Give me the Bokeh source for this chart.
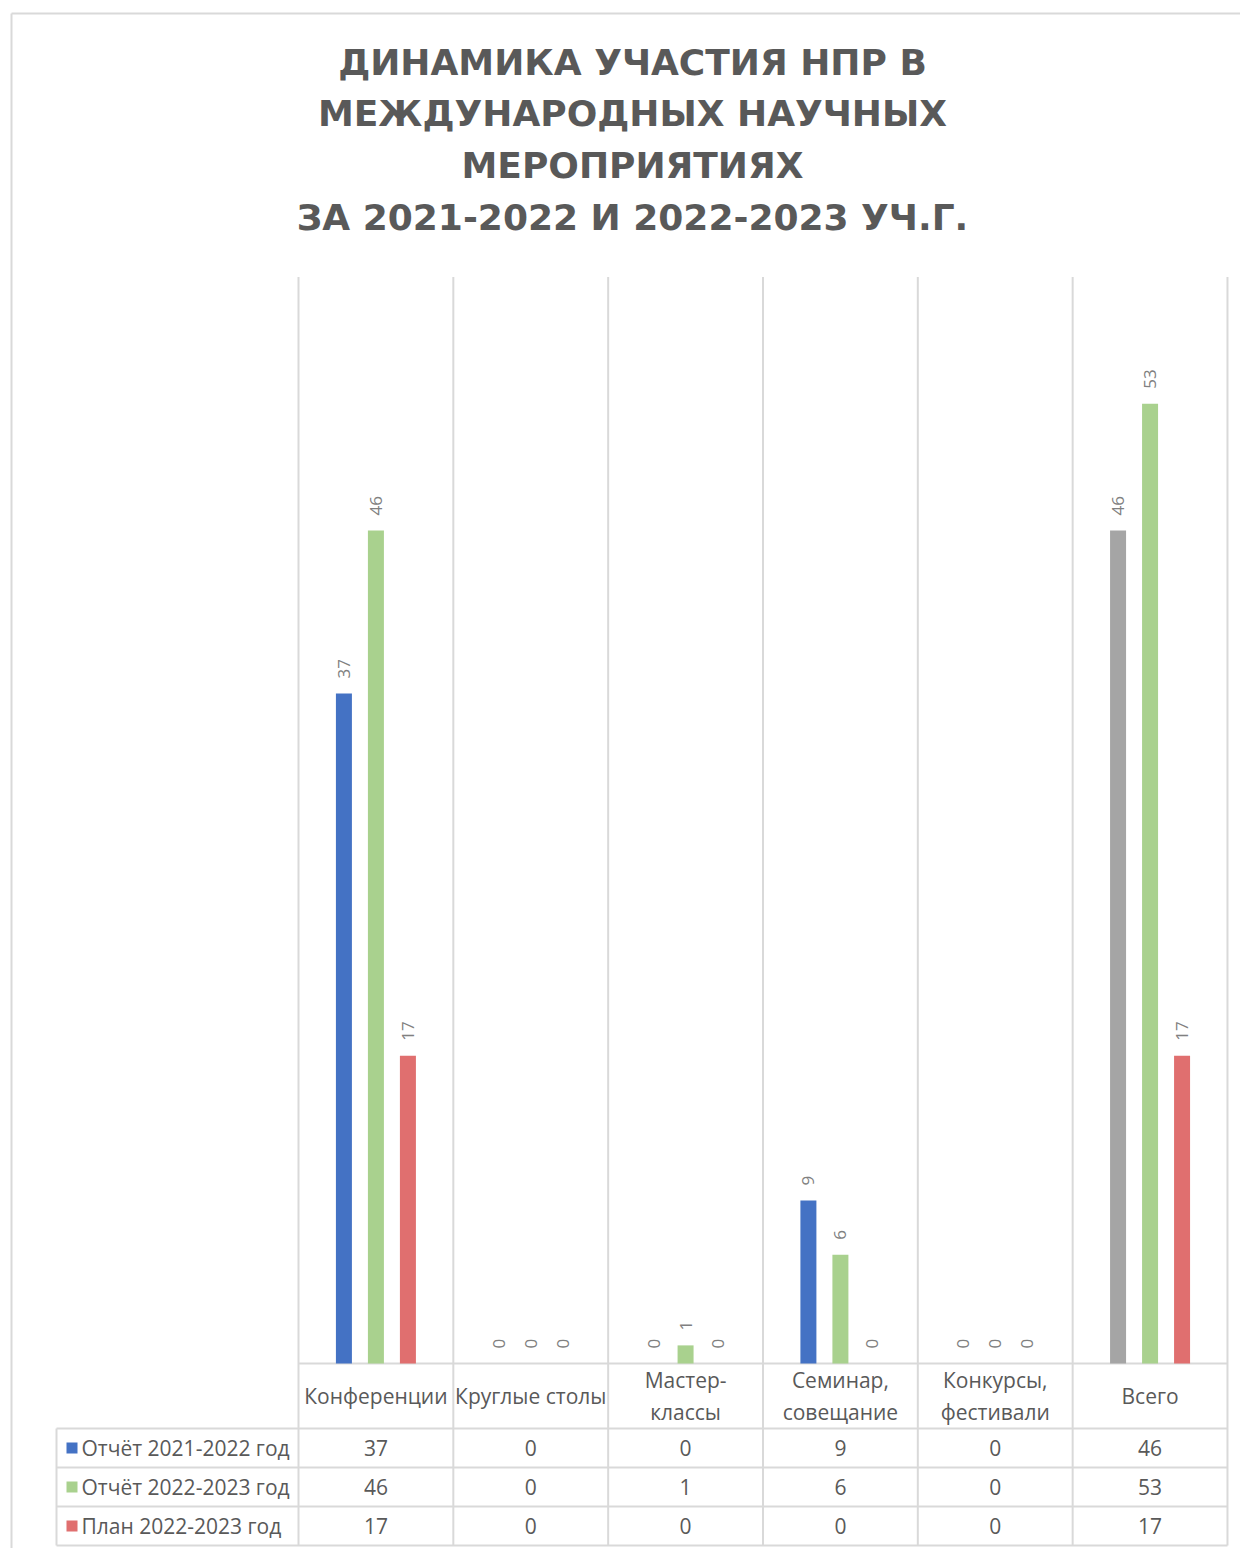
import math
from bokeh.plotting import figure
from bokeh.models import ColumnDataSource, Range1d
from bokeh.core.properties import value
from bokeh.embed import file_html
from bokeh.resources import INLINE

# ---------------- data ----------------
categories = ["Конференции", "Круглые столы", "Мастер-\nклассы",
              "Семинар,\nсовещание", "Конкурсы,\nфестивали", "Всего"]
report_2021_2022 = [37, 0, 0, 9, 0, 46]
report_2022_2023 = [46, 0, 1, 6, 0, 53]
plan_2022_2023 = [17, 0, 0, 0, 0, 17]
series_names = ["Отчёт 2021-2022 год", "Отчёт 2022-2023 год", "План 2022-2023 год"]
title_lines = ["ДИНАМИКА УЧАСТИЯ НПР В", "МЕЖДУНАРОДНЫХ НАУЧНЫХ",
               "МЕРОПРИЯТИЯХ", "ЗА 2021-2022 И 2022-2023 УЧ.Г."]
y_max = 60

# ---------------- styles / layout ----------------
BLUE, GREEN, RED, GREY_BAR = "#4472C4", "#A9D18E", "#E06F6F", "#A5A5A5"
TXT = "#595959"
LBL = "#808080"
GRID = "#D9D9D9"
FONT = "Open Sans"

W, H = 1240, 1548
CW = 154.83          # px per category
SY = 18.11           # px per unit
X0 = 298.0           # px of category 0 left edge
Y0 = 1363.0          # px (from top) of baseline

def dx(px):   # px -> data x
    return (px - X0) / CW

def dy(py):   # px from top -> data y
    return (Y0 - py) / SY

p = figure(width=W, height=H, output_backend="svg", toolbar_location=None,
           x_range=Range1d(dx(0), dx(W)), y_range=Range1d(dy(H), dy(0)),
           min_border=0, x_axis_type=None, y_axis_type=None)
p.grid.visible = False
p.outline_line_color = None
p.background_fill_color = "white"
p.border_fill_color = "white"

n = len(categories)
# outer chart border (left & top)
p.segment(x0=[dx(11), dx(11)], y0=[dy(13), dy(13)], x1=[dx(11), dx(W)], y1=[dy(H), dy(13)],
          line_color=GRID, line_width=2)

# ---------------- grid & table lines ----------------
header_h, row_h = 65, 39
leg_left = dx(56)
y_top_plot = y_max
y_header = dy(Y0 + header_h)
row_edges = [dy(Y0 + header_h + row_h * k) for k in range(4)]
y_bottom = row_edges[-1]

vx = list(range(n + 1))
p.segment(x0=vx, y0=[y_top_plot] * len(vx), x1=vx, y1=[y_bottom] * len(vx),
          line_color=GRID, line_width=2)
p.segment(x0=[leg_left], y0=[y_header], x1=[leg_left], y1=[y_bottom],
          line_color=GRID, line_width=2)
p.segment(x0=[0], y0=[0], x1=[n], y1=[0], line_color=GRID, line_width=2)
p.segment(x0=[leg_left] * 4, y0=row_edges, x1=[n] * 4, y1=row_edges,
          line_color=GRID, line_width=2)

# ---------------- bars ----------------
off = 32 / CW
bw = 16 / CW
series = [report_2021_2022, report_2022_2023, plan_2022_2023]
colors = [[BLUE] * (n - 1) + [GREY_BAR], [GREEN] * n, [RED] * n]
for k, (vals, cols) in enumerate(zip(series, colors)):
    xs = [i + 0.5 + (k - 1) * off for i in range(n)]
    src = ColumnDataSource(dict(x=xs, top=vals, color=cols,
                                lab=[str(v) for v in vals]))
    p.vbar(x="x", top="top", bottom=0, width=bw, fill_color="color",
           line_color=None, source=src)
    p.text(x="x", y="top", text="lab", source=src, angle=math.pi / 2,
           text_align="left", text_baseline="middle", y_offset=-15,
           text_font=value(FONT), text_font_size="17px", text_color=LBL)

# ---------------- category labels (table header) ----------------
cx = [i + 0.5 for i in range(n)]
p.text(x=cx, y=[(0 + y_header) / 2] * n, text=categories,
       text_align="center", text_baseline="middle", text_line_height=1.12,
       text_font=value(FONT), text_font_size="21px", text_color=TXT)

# ---------------- table rows ----------------
for k, vals in enumerate(series):
    yc = (row_edges[k] + row_edges[k + 1]) / 2
    p.text(x=cx, y=[yc] * n, text=[str(v) for v in vals],
           text_align="center", text_baseline="middle",
           text_font=value(FONT), text_font_size="21px", text_color=TXT)

leg_y = [(row_edges[k] + row_edges[k + 1]) / 2 for k in range(3)]
p.scatter(x=[dx(71.5)] * 3, y=leg_y, marker="square", size=11,
          fill_color=[BLUE, GREEN, RED], line_color=None)
p.text(x=[dx(81)] * 3, y=leg_y, text=series_names, text_align="left",
       text_baseline="middle", text_font=value(FONT), text_font_size="21px",
       text_color=TXT)

# ---------------- title ----------------
title_y = [dy(62), dy(113), dy(165), dy(217)]
p.text(x=[dx(632)] * 4, y=title_y, text=title_lines, text_align="center",
       text_baseline="middle", text_font=value("DejaVu Sans"),
       text_font_style="bold", text_font_size="36px", text_color=TXT)

open("out.html", "w").write(file_html(p, INLINE))
